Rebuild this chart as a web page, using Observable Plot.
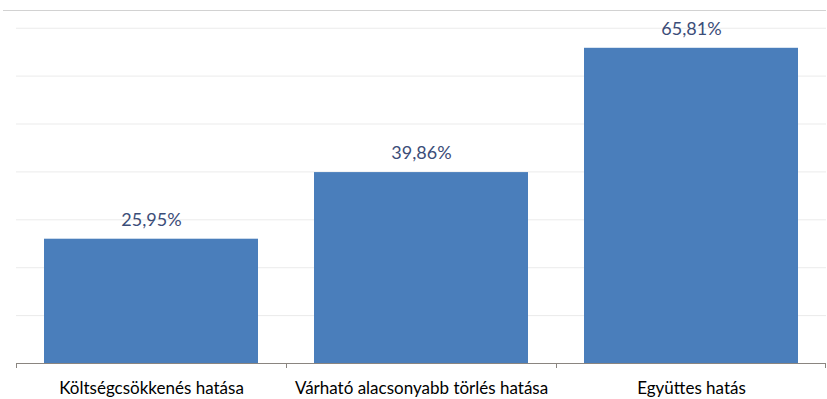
<!DOCTYPE html>
<html>
<head>
<meta charset="utf-8">
<script src="https://cdn.jsdelivr.net/npm/d3@7"></script>
<script src="https://cdn.jsdelivr.net/npm/@observablehq/plot@0.6"></script>
<style>
  html, body { margin: 0; padding: 0; background: #fff; }
  #chart { width: 827px; height: 399px; }
</style>
</head>
<body>
<div id="chart"></div>
<script>
const categories = ["Költségcsökkenés hatása", "Várható alacsonyabb törlés hatása", "Együttes hatás"];
const values = [25.95, 39.86, 65.81];
const valueLabels = ["25,95%", "39,86%", "65,81%"];
const gridTicks = [10, 20, 30, 40, 50, 60, 70];
const yMax = 73.7;

const data = categories.map((c, i) => ({category: c, value: values[i], label: valueLabels[i]}));

const W = 827, H = 399, mL = 16, mR = 1, mT = 10, mB = 36;
const step = (W - mL - mR) / categories.length;
const font = "Lato, 'Open Sans', sans-serif";

const plot = Plot.plot({
  width: W,
  height: H,
  marginLeft: mL,
  marginRight: mR,
  marginTop: mT,
  marginBottom: mB,
  style: {fontFamily: font, background: "#fff"},
  x: {domain: categories, paddingInner: 0.207, paddingOuter: 0.1035, label: null},
  y: {domain: [0, yMax], label: null, axis: null},
  marks: [
    Plot.ruleY(gridTicks, {stroke: "#ebebeb", strokeWidth: 1}),
    Plot.ruleY([yMax], {stroke: "#d2d2d2", strokeWidth: 1, insetLeft: -13}),
    Plot.barY(data, {x: "category", y: "value", fill: "#4a7ebb"}),
    Plot.ruleY([0], {stroke: "#8a8580", strokeWidth: 1}),
    Plot.ruleX(categories, {x: d => d, dx: -step / 2, stroke: "#8a8580", insetTop: H - mT - mB, insetBottom: -5}),
    Plot.ruleX([categories[categories.length - 1]], {x: d => d, dx: step / 2 - 1, stroke: "#8a8580", insetTop: H - mT - mB, insetBottom: -5}),
    Plot.text(data, {x: "category", y: "value", text: "label", dy: -19, fill: "#3b4d78", fontSize: 18, fontFamily: font}),
    Plot.axisX({tickSize: 0, tickPadding: 18, fontSize: 17, fill: "#000", fontFamily: font})
  ]
});

document.getElementById("chart").appendChild(plot);
</script>
</body>
</html>
